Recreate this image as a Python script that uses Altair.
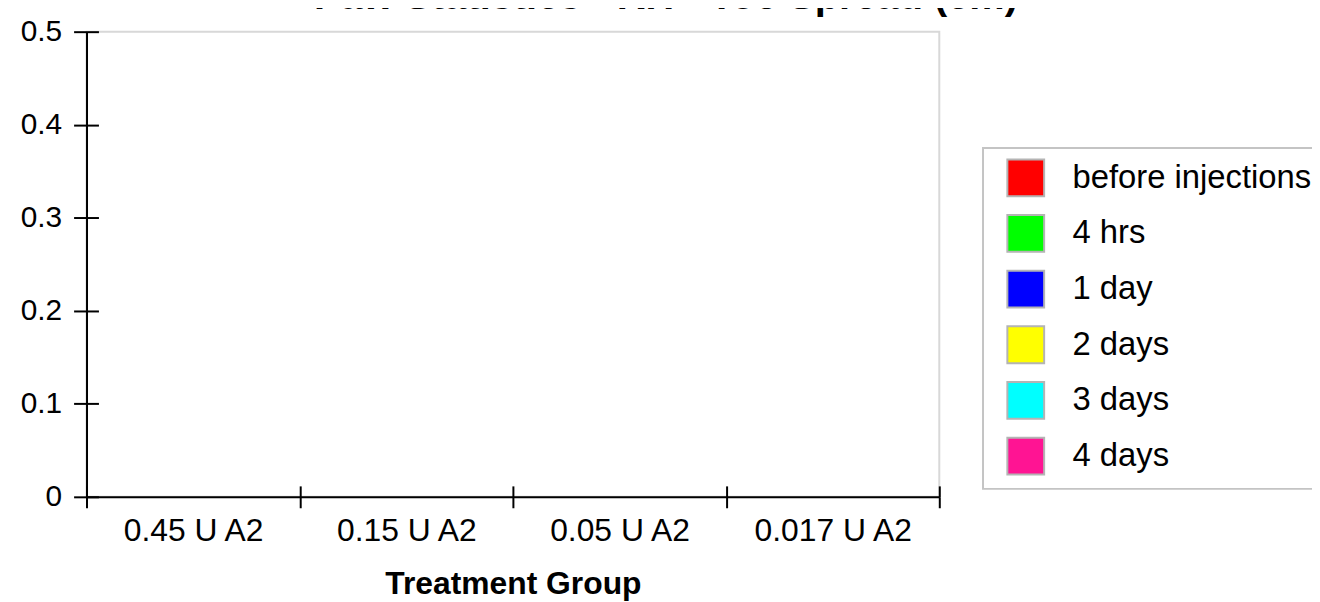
import altair as alt
import pandas as pd

# Treatment groups (x categories) and time points (legend series)
groups = ["0.45 U A2", "0.15 U A2", "0.05 U A2", "0.017 U A2"]
periods = ["before injections", "4 hrs", "1 day", "2 days", "3 days", "4 days"]
period_colors = ["#FF0000", "#00FF00", "#0000FF", "#FFFF00", "#00FFFF", "#FF1493"]

# Toe spread (cm) per period for each group -- the reference shows no bars,
# so these are placeholders (0), not values read from the picture
spread_045 = [0, 0, 0, 0, 0, 0]
spread_015 = [0, 0, 0, 0, 0, 0]
spread_005 = [0, 0, 0, 0, 0, 0]
spread_0017 = [0, 0, 0, 0, 0, 0]

y_ticks = [0, 0.1, 0.2, 0.3, 0.4, 0.5]

rows = []
for g, vals in zip(groups, [spread_045, spread_015, spread_005, spread_0017]):
    for p, v in zip(periods, vals):
        rows.append({"group": g, "period": p, "value": v})
df = pd.DataFrame(rows)

FONT = "Liberation Sans"

base = alt.Chart(df)

bars = base.mark_bar().encode(
    x=alt.X(
        "group:N",
        sort=groups,
        scale=alt.Scale(domain=groups, paddingInner=0, paddingOuter=0),
        axis=alt.Axis(
            title="Treatment Group",
            tickBand="extent",
            tickSize=11,
            tickWidth=2,
            tickColor="#000000",
            domainColor="#000000",
            domainWidth=2,
            labelAngle=0,
            labelFont=FONT,
            labelFontSize=32,
            labelColor="#000000",
            labelPadding=8,
            titleFont=FONT,
            titleFontSize=32,
            titleFontWeight="bold",
            titleColor="#000000",
            titlePadding=22,
            grid=False,
        ),
    ),
    xOffset=alt.XOffset("period:N", sort=periods, scale=alt.Scale(domain=periods)),
    y=alt.Y(
        "value:Q",
        scale=alt.Scale(domain=[0, 0.5], nice=False, zero=True),
        axis=alt.Axis(
            title=None,
            values=y_ticks,
            format="~g",
            tickSize=13,
            tickWidth=2,
            tickColor="#000000",
            domainColor="#000000",
            domainWidth=2,
            labelFont=FONT,
            labelFontSize=30,
            labelColor="#000000",
            labelPadding=12,
            grid=False,
        ),
    ),
    color=alt.Color(
        "period:N",
        sort=periods,
        scale=alt.Scale(domain=periods, range=period_colors),
        legend=alt.Legend(
            title=None,
            orient="none",
            legendX=902,
            legendY=117,
            padding=10,
            strokeColor="#c4c4c4",
            fillColor="#ffffff",
            symbolType="square",
            symbolSize=1370,
            symbolStrokeColor="#b4b4b4",
            symbolStrokeWidth=2,
            symbolOpacity=1,
            symbolOffset=13,
            labelFont=FONT,
            labelFontSize=33,
            labelColor="#000000",
            labelOffset=27,
            rowPadding=10,
            labelLimit=400,
        ),
    ),
)

# Inner halves of the crossing tick marks (axes pushed inside the plot)
inner = base.mark_bar(opacity=0).encode(
    x=alt.X(
        "group:N",
        sort=groups,
        axis=alt.Axis(
            orient="bottom",
            offset=-11,
            tickBand="extent",
            tickSize=11,
            tickWidth=2,
            tickColor="#000000",
            labels=False,
            domain=False,
            grid=False,
            title=None,
        ),
    ),
    y=alt.Y(
        "value:Q",
        axis=alt.Axis(
            orient="left",
            offset=-12,
            values=y_ticks,
            tickSize=12,
            tickWidth=2,
            tickColor="#000000",
            labels=False,
            domain=False,
            grid=False,
            title=None,
        ),
    ),
)

chart = (
    alt.layer(bars, inner)
    .resolve_axis(x="independent", y="independent")
    .properties(
        width=858,
        height=468,
        title=alt.TitleParams(
            "Paw Statistics - RH - Toe Spread (cm)",
            font=FONT,
            fontSize=40,
            fontWeight="bold",
            color="#000000",
            anchor="middle",
            baseline="alphabetic",
            offset=2,
            dx=154,
            dy=34,
        ),
        autosize=alt.AutoSizeParams(type="none"),
        padding={"left": 79, "top": 22, "right": 375, "bottom": 104},
    )
    .configure_view(stroke="#d8d8d8", strokeWidth=2)
    .configure_legend(strokeWidth=2)
)

chart.save("out.html", embed_options={"renderer": "svg", "actions": False})
